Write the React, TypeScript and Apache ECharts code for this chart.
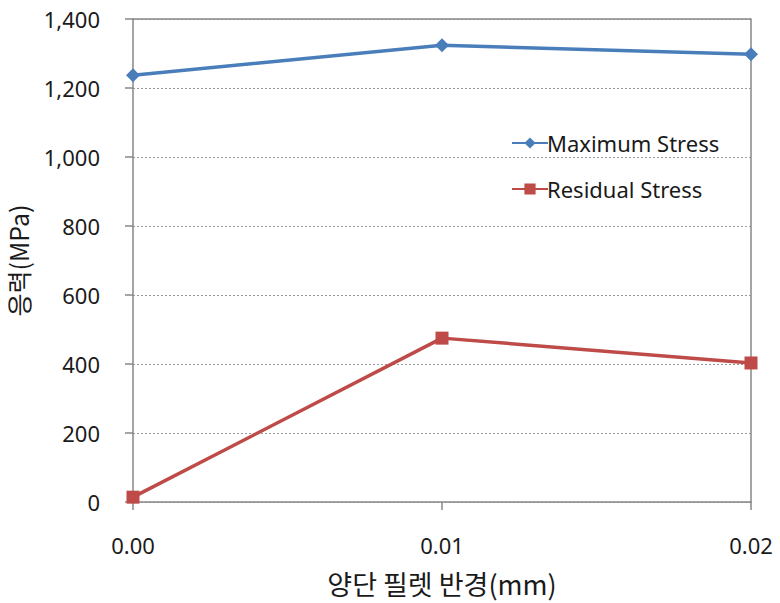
import React, { useEffect, useRef } from "react";
import * as echarts from "echarts";

const categories = ["0.00", "0.01", "0.02"];
const maximumStress = [1237, 1324, 1298];
const residualStress = [14, 475, 403];
const yTicks = { min: 0, max: 1400, interval: 200 };

export default function App() {
  const ref = useRef<HTMLDivElement>(null);
  useEffect(() => {
    const chart = echarts.init(ref.current!, null, { renderer: "svg" });
    const font = "'Noto Sans', 'Noto Sans CJK KR', sans-serif";
    chart.setOption({
      animation: false,
      backgroundColor: "#ffffff",
      grid: { left: 133, right: 29, top: 19, bottom: 101, containLabel: false, outerBoundsMode: "none", show: false },
      legend: {
        left: 506,
        top: 127,
        orient: "vertical",
        itemGap: 24,
        itemWidth: 36,
        itemHeight: 14,
        textStyle: { fontFamily: font, fontSize: 22, color: "#1a1a1a", padding: [0, 0, 0, -6] },
        data: ["Maximum Stress", "Residual Stress"],
      },
      xAxis: {
        type: "category",
        data: categories,
        boundaryGap: false,
        name: "양단 필렛 반경(mm)",
        nameLocation: "middle",
        nameGap: 68,
        nameTextStyle: { fontFamily: "'Noto Sans CJK KR', sans-serif", fontSize: 27, color: "#1a1a1a" },
        axisLine: { lineStyle: { color: "#878787", width: 1.5 } },
        axisTick: { show: true, alignWithLabel: true, length: 8, lineStyle: { color: "#878787", width: 1.5 } },
        axisLabel: { fontFamily: font, fontSize: 22, color: "#1a1a1a", margin: 32 },
        splitLine: { show: false },
      },
      yAxis: [
        {
          type: "value",
          min: yTicks.min,
          max: yTicks.max,
          interval: yTicks.interval,
          name: "응력(MPa)",
          nameLocation: "middle",
          nameRotate: 90,
          nameGap: 103,
          nameTextStyle: { fontFamily: "'Noto Sans CJK KR', sans-serif", fontSize: 25, fontWeight: "normal", color: "#1a1a1a" },
          axisLine: { show: true, lineStyle: { color: "#878787", width: 1.5 } },
          axisTick: { show: true, length: 8, lineStyle: { color: "#878787", width: 1.5 } },
          axisLabel: {
            fontFamily: font,
            fontSize: 22,
            color: "#1a1a1a",
            margin: 33,
            formatter: (v: number) => v.toLocaleString("en-US"),
          },
          splitLine: { show: true, lineStyle: { color: "#9a9a9a", type: [2, 2], width: 1 } },
        },
        {
          type: "value",
          min: yTicks.min,
          max: yTicks.max,
          interval: yTicks.interval,
          position: "right",
          axisLine: { show: true, lineStyle: { color: "#878787", width: 1.5 } },
          axisTick: { show: false },
          axisLabel: { show: false },
          splitLine: { show: false },
        },
      ],
      series: [
        {
          name: "Maximum Stress",
          type: "line",
          data: maximumStress,
          symbol: "diamond",
          symbolSize: 14,
          color: "#4A7EBB",
          lineStyle: { width: 3.5, color: "#4A7EBB" },
          itemStyle: { color: "#4A7EBB" },
          markLine: {
            silent: true,
            symbol: "none",
            label: { show: false },
            lineStyle: { color: "#878787", type: "solid", width: 1.5 },
            data: [{ yAxis: 1400 }],
          },
        },
        {
          name: "Residual Stress",
          type: "line",
          data: residualStress,
          symbol: "rect",
          symbolSize: 13,
          color: "#BE4B48",
          lineStyle: { width: 3.5, color: "#BE4B48" },
          itemStyle: { color: "#BE4B48" },
        },
      ],
    });
    return () => chart.dispose();
  }, []);
  return (
    <div
      ref={ref}
      style={{ position: "fixed", left: 0, top: 0, width: 780, height: 603 }}
    />
  );
}
